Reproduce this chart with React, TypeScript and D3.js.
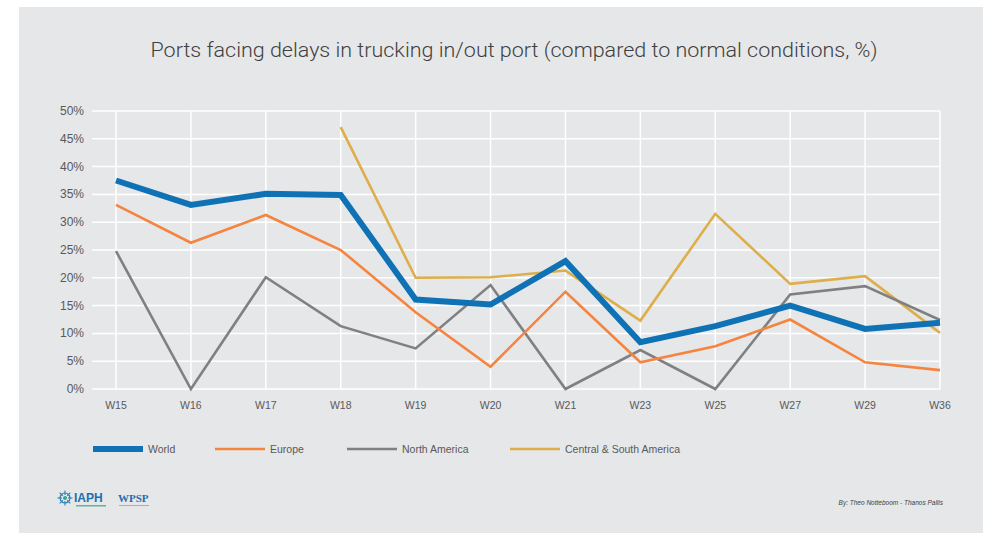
import React from "react";
import * as d3 from "d3";

const weeks = ["W15", "W16", "W17", "W18", "W19", "W20", "W21", "W23", "W25", "W27", "W29", "W36"];
const world = [37.5, 33.1, 35.1, 34.9, 16.1, 15.2, 23.0, 8.4, 11.3, 15.0, 10.8, 11.9];
const europe = [33.1, 26.3, 31.3, 25.0, 13.8, 4.0, 17.5, 4.8, 7.7, 12.5, 4.8, 3.4];
const northAmerica = [24.8, 0, 20.1, 11.3, 7.3, 18.7, 0, 7.0, 0, 17.0, 18.5, 12.4];
const centralSouth = [null, null, null, 47.1, 20.0, 20.1, 21.3, 12.3, 31.5, 18.9, 20.3, 10.1];
const yTicks = [0, 5, 10, 15, 20, 25, 30, 35, 40, 45, 50];

const seriesNames = ["World", "Europe", "North America", "Central & South America"];
const seriesColors = ["#0f72b5", "#f5843f", "#7e8082", "#ddae4a"];
const seriesWidths = [6, 2.6, 2.6, 2.6];
const seriesData = [world, europe, northAmerica, centralSouth];

export default function App() {
  const W = 989, H = 533;
  const x = d3.scalePoint<string>().domain(weeks).range([116, 940]);
  const y = d3.scaleLinear().domain([0, 50]).range([389, 111]);
  const line = d3
    .line<number | null>()
    .defined((d) => d !== null)
    .x((_, i) => x(weeks[i]) as number)
    .y((d) => y(d as number));

  const legendX = [93, 215, 347, 510];
  const font = "'Liberation Sans', Arial, sans-serif";

  return (
    <svg width={W} height={H} style={{ position: "absolute", left: 0, top: 0 }} fontFamily={font}>
      <rect x={0} y={0} width={W} height={H} fill="#ffffff" />
      <rect x={19} y={7} width={964} height={526} fill="#e6e7e9" />
      <text x={514} y={57} textAnchor="middle" fontSize={20} fontWeight={300} fontFamily="Roboto, 'Liberation Sans', sans-serif" fill="#404040" textLength={727} lengthAdjust="spacingAndGlyphs">
        Ports facing delays in trucking in/out port (compared to normal conditions, %)
      </text>
      {/* grid */}
      {yTicks.map((t) => (
        <line key={"h" + t} x1={92} x2={940} y1={y(t)} y2={y(t)} stroke="#ffffff" strokeWidth={1.5} />
      ))}
      {weeks.map((w) => (
        <line key={"v" + w} x1={x(w)} x2={x(w)} y1={y(50)} y2={y(0)} stroke="#ffffff" strokeWidth={1.5} />
      ))}
      {yTicks.map((t) => (
        <text key={"yl" + t} x={84} y={y(t) + 4} textAnchor="end" fontSize={12} fill="#595959">
          {t + "%"}
        </text>
      ))}
      {weeks.map((w) => (
        <text key={"xl" + w} x={x(w)} y={409} textAnchor="middle" fontSize={10.5} fill="#595959">
          {w}
        </text>
      ))}
      {/* series, drawn back to front */}
      {[3, 2, 1, 0].map((k) => (
        <path
          key={"s" + k}
          d={line(seriesData[k] as (number | null)[]) || ""}
          fill="none"
          stroke={seriesColors[k]}
          strokeWidth={seriesWidths[k]}
          strokeLinejoin="miter"
        />
      ))}
      {/* legend */}
      {seriesNames.map((n, k) => (
        <g key={"lg" + k}>
          <line x1={legendX[k]} x2={legendX[k] + 50} y1={449} y2={449} stroke={seriesColors[k]} strokeWidth={seriesWidths[k]} />
          <text x={legendX[k] + 55} y={453} fontSize={10.5} fill="#595959">
            {n}
          </text>
        </g>
      ))}
      {/* logos */}
      <g transform="translate(65,498)">
        <circle r={5} fill="none" stroke="#2a7fb8" strokeWidth={1.2} />
        <circle r={2} fill="#3aa58f" />
        {d3.range(8).map((i) => {
          const a = (i * Math.PI) / 4;
          return (
            <line key={"sp" + i} x1={Math.cos(a) * 3} y1={Math.sin(a) * 3} x2={Math.cos(a) * 7.5} y2={Math.sin(a) * 7.5} stroke="#2a7fb8" strokeWidth={1.1} />
          );
        })}
      </g>
      <text x={74} y={502} fontSize={12} fill="#1e6fb0" fontWeight="bold" fontFamily={font}>IAPH</text>
      <rect x={76} y={505} width={30} height={1.5} fill="#5fb59a" />
      <text x={118} y={502} fontSize={11} fill="#1e6fb0" fontWeight="bold" fontFamily="'Liberation Serif', serif">WPSP</text>
      <rect x={119} y={505} width={30} height={1} fill="#8fb7c9" />
      <text x={943} y={505} textAnchor="end" fontSize={6.5} fontStyle="italic" fill="#404040">
        By: Theo Notteboom - Thanos Pallis
      </text>
    </svg>
  );
}
